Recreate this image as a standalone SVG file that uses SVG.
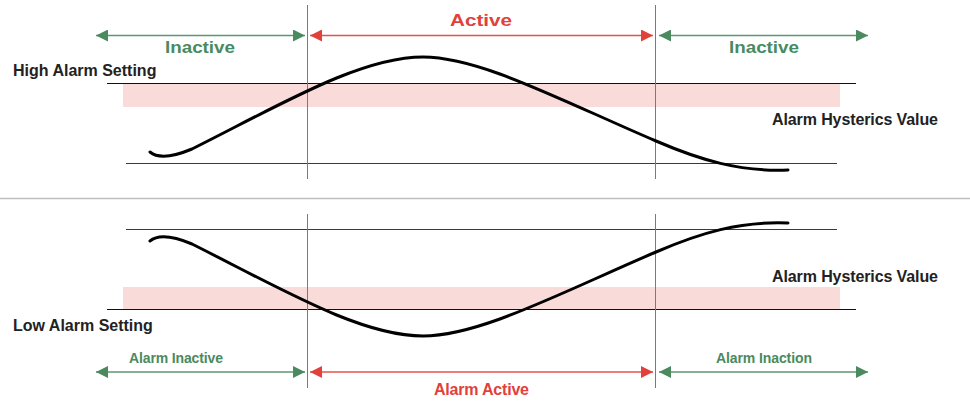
<svg xmlns="http://www.w3.org/2000/svg" width="970" height="401" viewBox="0 0 970 401">
  <style>
    .lbl { font-family: "Liberation Sans", Arial, sans-serif; font-weight: bold; }
    .dark { fill: #222222; font-size: 16px; }
    .green { fill: #4a8a5e; }
    .red { fill: #e2403a; }
    .vline { stroke: #7a7a7a; stroke-width: 1; }
    .hline-k { stroke: #111111; stroke-width: 1; }
    .hline-g { stroke: #3a3a3a; stroke-width: 1; }
    .band { fill: #f9dbda; }
    .curve { fill: none; stroke: #000000; stroke-width: 3; stroke-linecap: round; }
    .arr-g { stroke: #5c9670; stroke-width: 1.6; marker-start: url(#headG); marker-end: url(#headG); }
    .arr-r { stroke: #e8504a; stroke-width: 1.6; marker-start: url(#headR); marker-end: url(#headR); }
  </style>
  <defs>
    <marker id="headG" viewBox="0 0 12 12" refX="12" refY="6" markerWidth="12" markerHeight="12" markerUnits="userSpaceOnUse" orient="auto-start-reverse">
      <path d="M0,0 L12,6 L0,12 z" fill="#4a8a5e"/>
    </marker>
    <marker id="headR" viewBox="0 0 12 12" refX="12" refY="6" markerWidth="12" markerHeight="12" markerUnits="userSpaceOnUse" orient="auto-start-reverse">
      <path d="M0,0 L12,6 L0,12 z" fill="#e2403a"/>
    </marker>
  </defs>
  <rect width="970" height="401" fill="#ffffff"/>

  <!-- separator -->
  <g id="separator">
    <line x1="0" y1="198.5" x2="970" y2="198.5" stroke="#bfbfbf" stroke-width="1.5"/>
  </g>

  <!-- top panel -->
  <g id="high-band">
    <rect class="band" x="123" y="84" width="717" height="23"/>
  </g>
  <g id="high-setting-line">
    <line class="hline-k" x1="107" y1="83.5" x2="856" y2="83.5"/>
  </g>
  <g id="high-lower-line">
    <line class="hline-g" x1="126" y1="163.5" x2="837" y2="163.5"/>
  </g>
  <g id="top-dividers">
    <line class="vline" x1="307.5" y1="5" x2="307.5" y2="179"/>
    <line class="vline" x1="655.5" y1="5" x2="655.5" y2="179"/>
  </g>
  <g id="high-curve">
    <path class="curve" d="M150,152 C156,157 168,159 192,149 C280,105 360,57 423,57 C480,57 560,100 656,141 C700,160 740,172 788,170"/>
  </g>
  <g id="label-high-setting">
    <text class="lbl dark" x="13" y="76">High Alarm Setting</text>
  </g>
  <g id="label-high-hyst">
    <text class="lbl dark" x="772" y="125" textLength="166">Alarm Hysterics Value</text>
  </g>
  <g id="label-top-inactive-left">
    <text class="lbl green" x="165" y="53" font-size="16" textLength="70" lengthAdjust="spacingAndGlyphs">Inactive</text>
  </g>
  <g id="label-top-active">
    <text class="lbl red" x="450" y="26" font-size="16" textLength="62" lengthAdjust="spacingAndGlyphs">Active</text>
  </g>
  <g id="label-top-inactive-right">
    <text class="lbl green" x="729" y="53" font-size="16" textLength="70" lengthAdjust="spacingAndGlyphs">Inactive</text>
  </g>

  <!-- bottom panel -->
  <g id="low-band">
    <rect class="band" x="123" y="287" width="717" height="22"/>
  </g>
  <g id="low-upper-line">
    <line class="hline-g" x1="126" y1="229.5" x2="837" y2="229.5"/>
  </g>
  <g id="low-setting-line">
    <line class="hline-k" x1="107" y1="309.5" x2="856" y2="309.5"/>
  </g>
  <g id="bottom-dividers">
    <line class="vline" x1="307.5" y1="214" x2="307.5" y2="388"/>
    <line class="vline" x1="655.5" y1="214" x2="655.5" y2="388"/>
  </g>
  <g id="low-curve">
    <path class="curve" d="M150,241 C156,236 168,234 192,244 C280,288 360,336 423,336 C480,336 560,293 656,252 C700,233 740,221 788,223"/>
  </g>
  <g id="label-low-setting">
    <text class="lbl dark" x="13" y="331">Low Alarm Setting</text>
  </g>
  <g id="label-low-hyst">
    <text class="lbl dark" x="772" y="282" textLength="166">Alarm Hysterics Value</text>
  </g>
  <g id="label-bottom-inactive-left">
    <text class="lbl green" x="129" y="363" font-size="14" textLength="94">Alarm Inactive</text>
  </g>
  <g id="label-bottom-active">
    <text class="lbl red" x="434" y="395" font-size="16" textLength="95">Alarm Active</text>
  </g>
  <g id="label-bottom-inaction">
    <text class="lbl green" x="716" y="363" font-size="14" textLength="96">Alarm Inaction</text>
  </g>

  <!-- connectors -->
  <g id="connectors">
    <line class="arr-g" x1="96" y1="35.5" x2="305" y2="35.5"/>
    <line class="arr-r" x1="310" y1="35.5" x2="653" y2="35.5"/>
    <line class="arr-g" x1="659" y1="35.5" x2="868" y2="35.5"/>
    <line class="arr-g" x1="96" y1="372" x2="305" y2="372"/>
    <line class="arr-r" x1="310" y1="372" x2="653" y2="372"/>
    <line class="arr-g" x1="659" y1="372" x2="868" y2="372"/>
  </g>
</svg>
